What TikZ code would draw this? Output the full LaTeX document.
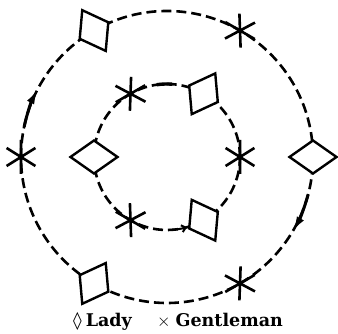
\documentclass[tikz,border=0pt]{standalone}
\usepackage{fontspec}
\newfontfamily\keyfont{DejaVu Serif}
\newfontfamily\lozfont{DejaVu Sans}
\usetikzlibrary{arrows.meta,shapes.geometric}

\tikzset{
  gent/.pic={\draw[gentline] (90:17) -- (-90:17) (32:17) -- (212:17) (-32:17) -- (148:17);}
}

\begin{document}
\begin{tikzpicture}[
  x=1pt, y=1pt,
  ring/.style={dash pattern=on 10pt off 5pt, line width=2.6pt},
  lady/.style={diamond, draw, fill=white, line width=2.4pt, inner sep=0pt, minimum width=48pt, minimum height=34pt},
  gentline/.style={line width=2.6pt},
  tip/.style={-{Latex[length=16pt, width=8pt]}, line width=3pt},
  itip/.style={-{Straight Barb[length=4pt, width=7pt]}, line width=2pt},
  key/.style={anchor=base west, inner sep=0pt, font=\fontsize{17.5}{17.5}\selectfont\keyfont\bfseries}
]
\useasboundingbox (0,0) rectangle (338,334);
\coordinate (O) at (167,177);

% the two rings
\draw[ring] (O) circle[radius=146];
\draw[ring] (O) circle[radius=73];

% direction of travel
\draw[tip] ([shift={(168:146)}]O) arc[start angle=168, end angle=152, radius=146];
\draw[tip] ([shift={(-15:146)}]O) arc[start angle=-15, end angle=-31, radius=146];
\draw[line width=3.4pt] ([shift={(98:73)}]O) arc[start angle=98, end angle=86, radius=73];
\draw[itip] ([shift={(-88:73)}]O) arc[start angle=-88, end angle=-74, radius=73];

% outer ring
\node[lady, rotate=0] (l1) at ([shift={(0:146)}]O) {};
\node[lady, rotate=120] (l2) at ([shift={(120:146)}]O) {};
\node[lady, rotate=240] (l3) at ([shift={(240:146)}]O) {};
\coordinate (g1) at ([shift={(60:146)}]O);
\coordinate (g2) at ([shift={(180:146)}]O);
\coordinate (g3) at ([shift={(300:146)}]O);
\pic[rotate=60] at (g1) {gent};
\pic[rotate=180] at (g2) {gent};
\pic[rotate=300] at (g3) {gent};

% inner ring
\node[lady, rotate=60] (l4) at ([shift={(60:73)}]O) {};
\node[lady, rotate=180] (l5) at ([shift={(180:73)}]O) {};
\node[lady, rotate=300] (l6) at ([shift={(300:73)}]O) {};
\coordinate (g4) at ([shift={(0:73)}]O);
\coordinate (g5) at ([shift={(120:73)}]O);
\coordinate (g6) at ([shift={(240:73)}]O);
\pic[rotate=0] at (g4) {gent};
\pic[rotate=120] at (g5) {gent};
\pic[rotate=240] at (g6) {gent};

% key
\node[key] (ladykey) at (73,7) {{\lozfont\mdseries ◊}\hspace{4pt}Lady};
\node[key] (gentkey) at (157,7) {{\mdseries$\times$}\hspace{5pt}Gentleman};
\end{tikzpicture}
\end{document}
